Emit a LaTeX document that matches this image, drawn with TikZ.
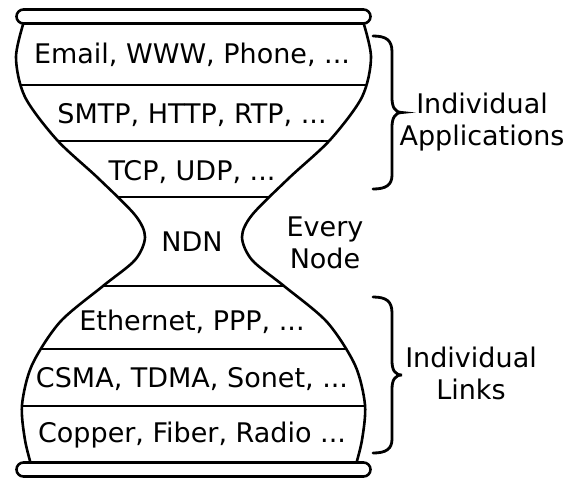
\documentclass[tikz,border=0pt]{standalone}
\usepackage{fontspec}
\setmainfont{DejaVu Sans}
\begin{document}
\begin{tikzpicture}[x=0.5pt,y=-0.5pt,line width=1.3pt,
  lbl/.style={font=\fontsize{13.5}{16}\selectfont,anchor=base,inner sep=0pt,align=center},
  bar/.style={draw,fill=white,rounded corners=3.5pt},
  bracestyle/.style={draw,line width=1.4pt,line cap=round}]
\useasboundingbox (0,0) rectangle (566,478);
\def\leftside{(25,18) (16,57) (25,97) (57,140) (98,178) (135,215) (145,237) (135,260) (103,286) (60,322) (32,365) (22,405) (25,440) (32,468)}
\def\rightside{(355,468) (362,440) (365,405) (355,365) (327,322) (284,286) (252,260) (242,237) (252,215) (289,178) (330,140) (362,97) (371,57) (362,18)}
% hourglass region
\begin{scope}
\clip plot[smooth] coordinates {\leftside} -- plot[smooth] coordinates {\rightside} -- cycle;
\foreach \yy in {85,141,197,286,349,406}{\draw (0,\yy) -- (400,\yy);}
\end{scope}
\draw plot[smooth] coordinates {\leftside};
\draw plot[smooth] coordinates {\rightside};
% bars
\node[bar,minimum width=177pt,minimum height=7pt,inner sep=0pt] (topbar) at (193.5,16.5) {};
\node[bar,minimum width=177pt,minimum height=7pt,inner sep=0pt] (botbar) at (193.5,469.5) {};
% layer labels
\node[lbl] (email) at (192,63) {Email, WWW, Phone, ...};
\node[lbl] (smtp) at (192,123) {SMTP, HTTP, RTP, ...};
\node[lbl] (tcp) at (192,180) {TCP, UDP, ...};
\node[lbl] (ndn) at (192,251) {NDN};
\node[lbl] (eth) at (192,330) {Ethernet, PPP, ...};
\node[lbl] (csma) at (192,387) {CSMA, TDMA, Sonet, ...};
\node[lbl] (copper) at (192,442) {Copper, Fiber, Radio ...};
\node[lbl] (every) at (325,268) {Every\\Node};
\node[lbl] (apps) at (482,145) {Individual\\Applications};
\node[lbl] (links) at (471,399) {Individual\\Links};
% braces
\coordinate (a1) at (373,36);
\coordinate (a2) at (373,189);
\coordinate (l1) at (373,297);
\coordinate (l2) at (373,453);
\draw[bracestyle] (a1) .. controls (386,36) and (392,40) .. (392,52) -- (392,98)
  .. controls (392,107) and (395,112.5) .. (402,112.5)
  .. controls (395,112.5) and (392,118) .. (392,127) -- (392,175)
  .. controls (392,185) and (386,189) .. (a2);
\draw[bracestyle] (l1) .. controls (386,297) and (392,301) .. (392,313) -- (392,361)
  .. controls (392,370) and (395,375) .. (402,375)
  .. controls (395,375) and (392,380) .. (392,389) -- (392,439)
  .. controls (392,449) and (386,453) .. (l2);
\end{tikzpicture}
\end{document}
